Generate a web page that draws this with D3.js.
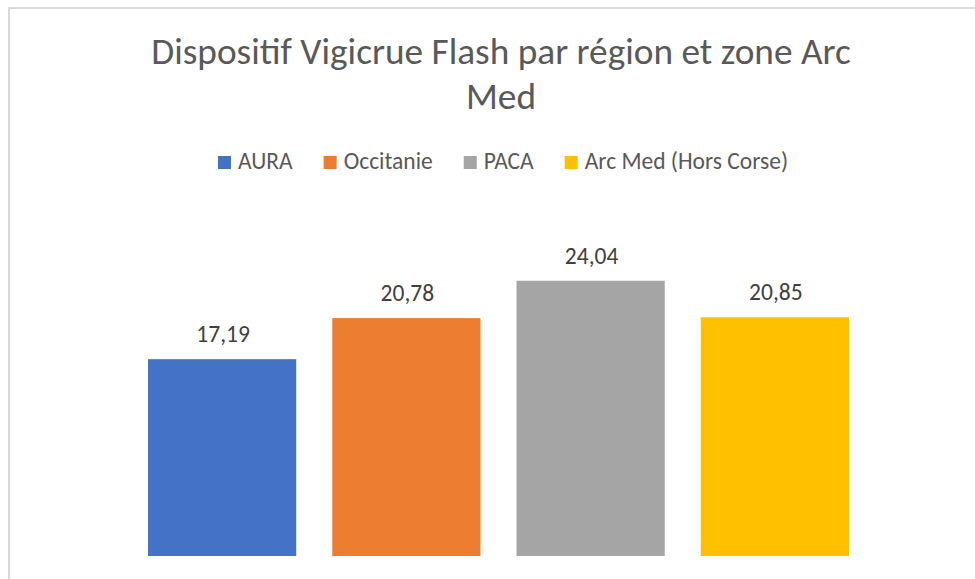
<!DOCTYPE html>
<html>
<head>
<meta charset="utf-8">
<script src="https://cdn.jsdelivr.net/npm/d3@7"></script>
<style>
  html, body { margin: 0; padding: 0; background: #ffffff; }
  svg { display: block; }
  text { font-family: Carlito, Calibri, "Open Sans", sans-serif; }
</style>
</head>
<body>
<div id="chart"></div>
<script>
const titleLines = ["Dispositif Vigicrue Flash par région et zone Arc", "Med"];
const categories = ["AURA", "Occitanie", "PACA", "Arc Med (Hors Corse)"];
const values = [17.19, 20.78, 24.04, 20.85];
const labels = ["17,19", "20,78", "24,04", "20,85"];
const colors = ["#4472C4", "#ED7D31", "#A5A5A5", "#FFC000"];

const W = 975, H = 579;
const svg = d3.select("#chart").append("svg").attr("width", W).attr("height", H);

svg.append("rect").attr("width", W).attr("height", H).attr("fill", "#fff");
// chart border (extends past right/bottom edge of the viewport)
svg.append("rect")
  .attr("x", 9).attr("y", 8).attr("width", 1000).attr("height", 700)
  .attr("fill", "none").attr("stroke", "#d9d9d9").attr("stroke-width", 2);

// title
const cx = 501;
svg.append("g").selectAll("text").data(titleLines).join("text")
  .attr("x", cx).attr("y", (d, i) => 64 + i * 45)
  .attr("text-anchor", "middle")
  .attr("fill", "#595959").attr("font-size", 37.3)
  .text(d => d);

// legend
const lg = svg.append("g");
const items = lg.selectAll("g").data(categories).join("g");
items.append("rect").attr("width", 13).attr("height", 13).attr("y", 156)
  .attr("fill", (d, i) => colors[i]);
items.append("text").attr("x", 20).attr("y", 169)
  .attr("fill", "#595959").attr("font-size", 23.5).text(d => d);
let xo = 0;
const offs = [];
items.each(function () {
  offs.push(xo);
  const w = d3.select(this).select("text").node().getComputedTextLength();
  xo += 20 + w + 31;
});
const total = xo - 31;
const start = 503 - total / 2;
items.attr("transform", (d, i) => `translate(${start + offs[i]},0)`);

// scales
const x = d3.scaleBand().domain(categories).range([130, 867])
  .paddingInner(36 / 184).paddingOuter(18 / 184);
const y = d3.scaleLinear().domain([0, 30]).range([556, 212.5]);

svg.append("g").selectAll("rect").data(values).join("rect")
  .attr("x", (d, i) => x(categories[i]))
  .attr("width", x.bandwidth())
  .attr("y", d => y(d))
  .attr("height", d => y(0) - y(d))
  .attr("fill", (d, i) => colors[i]);

svg.append("g").selectAll("text").data(values).join("text")
  .attr("x", (d, i) => x(categories[i]) + x.bandwidth() / 2 + 1)
  .attr("y", d => y(d) - 17)
  .attr("text-anchor", "middle")
  .attr("fill", "#404040").attr("font-size", 23.5)
  .text((d, i) => labels[i]);
</script>
</body>
</html>
